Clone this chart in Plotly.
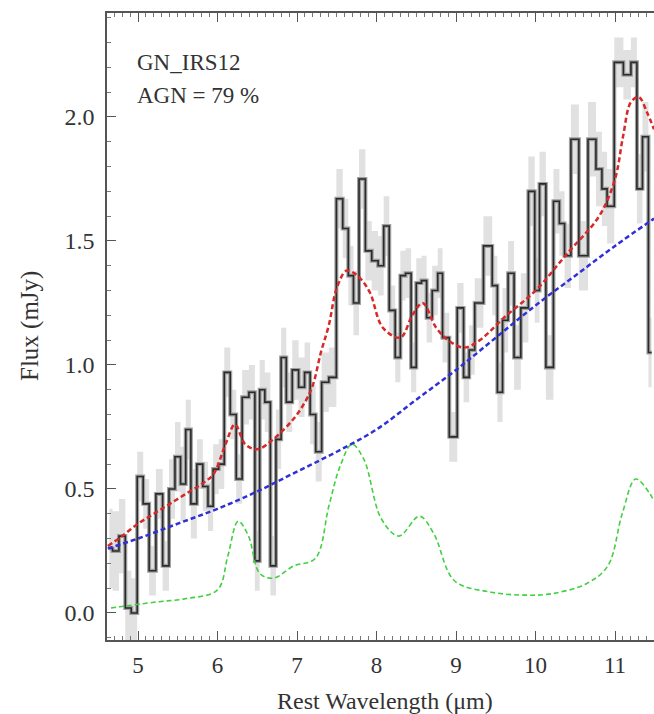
import plotly.graph_objects as go

# ---- data ----
wl = [4.64,4.72,4.80,4.88,4.95,5.03,5.10,5.18,5.27,5.35,5.43,5.50,5.57,5.63,5.70,
      5.78,5.85,5.91,5.98,6.05,6.12,6.20,6.27,6.35,6.44,6.50,6.56,6.63,6.70,6.77,
      6.83,6.90,6.98,7.06,7.13,7.20,7.27,7.35,7.45,7.54,7.61,7.68,7.74,7.82,7.90,
      7.98,8.06,8.12,8.20,8.27,8.33,8.40,8.47,8.53,8.60,8.66,8.74,8.80,8.86,8.97,
      9.06,9.13,9.20,9.27,9.42,9.49,9.55,9.62,9.69,9.77,9.86,9.96,10.02,10.08,10.18,
      10.27,10.33,10.40,10.49,10.60,10.72,10.80,10.87,10.93,11.05,11.16,11.24,11.31,11.38,11.46]
flux = [0.26,0.25,0.31,0.02,0.00,0.55,0.44,0.17,0.48,0.19,0.50,0.63,0.52,0.74,0.44,
        0.60,0.51,0.43,0.58,0.60,0.97,0.80,0.54,0.87,0.89,0.21,0.90,0.85,0.19,0.70,
        1.03,0.85,0.98,0.91,0.97,0.80,0.65,0.93,0.95,1.67,1.55,1.36,1.25,1.75,1.46,
        1.42,1.40,1.56,1.22,1.03,1.36,1.37,0.99,1.33,1.34,1.19,1.30,1.37,1.11,0.71,
        1.23,0.95,1.06,1.25,1.48,1.32,0.89,1.18,1.37,1.03,1.23,1.70,1.30,1.73,0.99,
        1.66,1.57,1.44,1.91,1.44,1.91,1.79,1.71,1.64,2.22,2.17,2.22,1.71,1.92,1.05]
err = [0.16,0.16,0.15,0.15,0.14,0.10,0.10,0.10,0.10,0.10,0.12,0.14,0.15,0.12,0.14,
       0.10,0.10,0.10,0.10,0.10,0.10,0.10,0.10,0.11,0.11,0.12,0.12,0.12,0.12,0.12,
       0.12,0.12,0.12,0.12,0.12,0.12,0.12,0.12,0.12,0.12,0.12,0.12,0.13,0.12,0.12,
       0.12,0.12,0.12,0.10,0.10,0.10,0.10,0.10,0.10,0.10,0.10,0.10,0.10,0.10,0.10,
       0.10,0.10,0.10,0.10,0.12,0.12,0.12,0.13,0.13,0.13,0.14,0.14,0.13,0.13,0.13,
       0.13,0.13,0.13,0.14,0.14,0.15,0.15,0.15,0.15,0.10,0.10,0.10,0.14,0.14,0.14]

model_wl = [4.62,4.80,5.00,5.20,5.40,5.60,5.80,5.95,6.10,6.22,6.35,6.50,6.70,6.95,
            7.10,7.20,7.30,7.40,7.50,7.62,7.72,7.82,7.92,8.08,8.30,8.45,8.58,8.75,
            8.90,9.10,9.30,9.60,10.00,10.40,10.80,11.00,11.10,11.20,11.30,11.40,11.49]
model_flux = [0.27,0.31,0.36,0.40,0.44,0.48,0.52,0.56,0.68,0.76,0.68,0.66,0.70,0.78,
              0.85,0.92,1.05,1.16,1.31,1.38,1.37,1.34,1.29,1.15,1.11,1.20,1.25,1.15,
              1.10,1.07,1.10,1.19,1.30,1.45,1.60,1.75,1.92,2.06,2.08,2.02,1.95]

cont_wl = [4.62,5.0,5.5,6.0,6.5,7.0,7.5,8.0,8.5,9.0,9.5,10.0,10.5,11.0,11.49]
cont_flux = [0.26,0.30,0.36,0.42,0.49,0.57,0.65,0.74,0.86,0.98,1.11,1.24,1.36,1.48,1.59]

pah_wl = [4.66,4.77,5.25,5.61,6.00,6.13,6.26,6.39,6.53,6.70,6.96,7.23,7.40,7.54,7.69,
          7.84,8.06,8.28,8.54,8.72,8.98,9.42,9.86,10.21,10.65,10.91,11.09,11.26,11.44,11.49]
pah_flux = [0.02,0.025,0.045,0.058,0.093,0.23,0.37,0.31,0.16,0.14,0.19,0.22,0.43,0.59,0.68,
            0.62,0.38,0.31,0.39,0.32,0.13,0.085,0.072,0.078,0.12,0.19,0.40,0.54,0.48,0.45]

upper = [f + e for f, e in zip(flux, err)]
lower = [f - e for f, e in zip(flux, err)]

fig = go.Figure()
fig.add_trace(go.Scatter(x=wl, y=lower, mode="lines", line=dict(width=0, shape="hvh"),
                         showlegend=False, hoverinfo="skip"))
fig.add_trace(go.Scatter(x=wl, y=upper, mode="lines", line=dict(width=0, shape="hvh"),
                         fill="tonexty", fillcolor="rgba(200,200,200,0.55)",
                         showlegend=False, hoverinfo="skip"))
fig.add_trace(go.Scatter(x=wl, y=flux, mode="lines",
                         line=dict(color="#a0a0a0", width=4, shape="hvh"), showlegend=False))
fig.add_trace(go.Scatter(x=wl, y=flux, mode="lines",
                         line=dict(color="#2a2a2a", width=1.6, shape="hvh"), showlegend=False))
fig.add_trace(go.Scatter(x=pah_wl, y=pah_flux, mode="lines",
                         line=dict(color="#40d040", width=1.6, dash="5px,3px", shape="spline"),
                         showlegend=False))
fig.add_trace(go.Scatter(x=cont_wl, y=cont_flux, mode="lines",
                         line=dict(color="#3030d8", width=2.5, dash="5px,3px", shape="spline"),
                         showlegend=False))
fig.add_trace(go.Scatter(x=model_wl, y=model_flux, mode="lines",
                         line=dict(color="#d82828", width=2.5, dash="5px,3px", shape="spline"),
                         showlegend=False))

font_family = "Liberation Serif, DejaVu Serif, serif"
txt_color = "#333333"

fig.update_layout(
    width=654, height=714,
    margin=dict(l=107, r=0, t=13, b=74),
    paper_bgcolor="white", plot_bgcolor="white",
    font=dict(family=font_family, size=24, color=txt_color),
    showlegend=False,
)
fig.update_xaxes(
    range=[4.61, 11.49], showgrid=False, zeroline=False,
    showline=True, linecolor="#555", linewidth=1.5, mirror="ticks",
    ticks="inside", ticklen=9, tickwidth=1.3, tickcolor="#555",
    tickmode="array", tickvals=[5, 6, 7, 8, 9, 10, 11],
    ticktext=["5", "6", "7", "8", "9", "10", "11"],
    ticklabelstandoff=4,
    minor=dict(ticks="inside", ticklen=4, tickwidth=1, tickcolor="#777", dtick=0.1, tick0=5),
    tickfont=dict(family=font_family, size=23, color=txt_color),
)
fig.update_yaxes(
    range=[-0.109, 2.419], showgrid=False, zeroline=False,
    showline=True, linecolor="#555", linewidth=1.5, mirror=False,
    ticks="inside", ticklen=9, tickwidth=1.3, tickcolor="#555",
    tickmode="array", tickvals=[0.0, 0.5, 1.0, 1.5, 2.0],
    ticktext=["0.0", "0.5", "1.0", "1.5", "2.0"],
    ticklabelstandoff=6,
    minor=dict(ticks="inside", ticklen=4, tickwidth=1, tickcolor="#777", dtick=0.1, tick0=0),
    tickfont=dict(family=font_family, size=24, color=txt_color),
)

fig.add_annotation(text="Rest Wavelength (μm)", xref="paper", yref="paper",
                   x=(385 - 107) / 547, y=(640 - 701) / 627, xanchor="center", yanchor="middle",
                   showarrow=False, font=dict(family=font_family, size=24, color=txt_color))
fig.add_annotation(text="Flux (mJy)", xref="paper", yref="paper",
                   x=(30 - 107) / 547, y=(640 - 326) / 627, xanchor="center", yanchor="middle",
                   textangle=-90, showarrow=False,
                   font=dict(family=font_family, size=25, color=txt_color))
fig.add_annotation(text="GN_IRS12", xref="paper", yref="paper",
                   x=(135 - 107) / 547, y=(640 - 62) / 627, xanchor="left", yanchor="middle",
                   showarrow=False, font=dict(family=font_family, size=23, color=txt_color))
fig.add_annotation(text="AGN = 79 %", xref="paper", yref="paper",
                   x=(135 - 107) / 547, y=(640 - 96) / 627, xanchor="left", yanchor="middle",
                   showarrow=False, font=dict(family=font_family, size=23, color=txt_color))

fig.write_html("out.html")
